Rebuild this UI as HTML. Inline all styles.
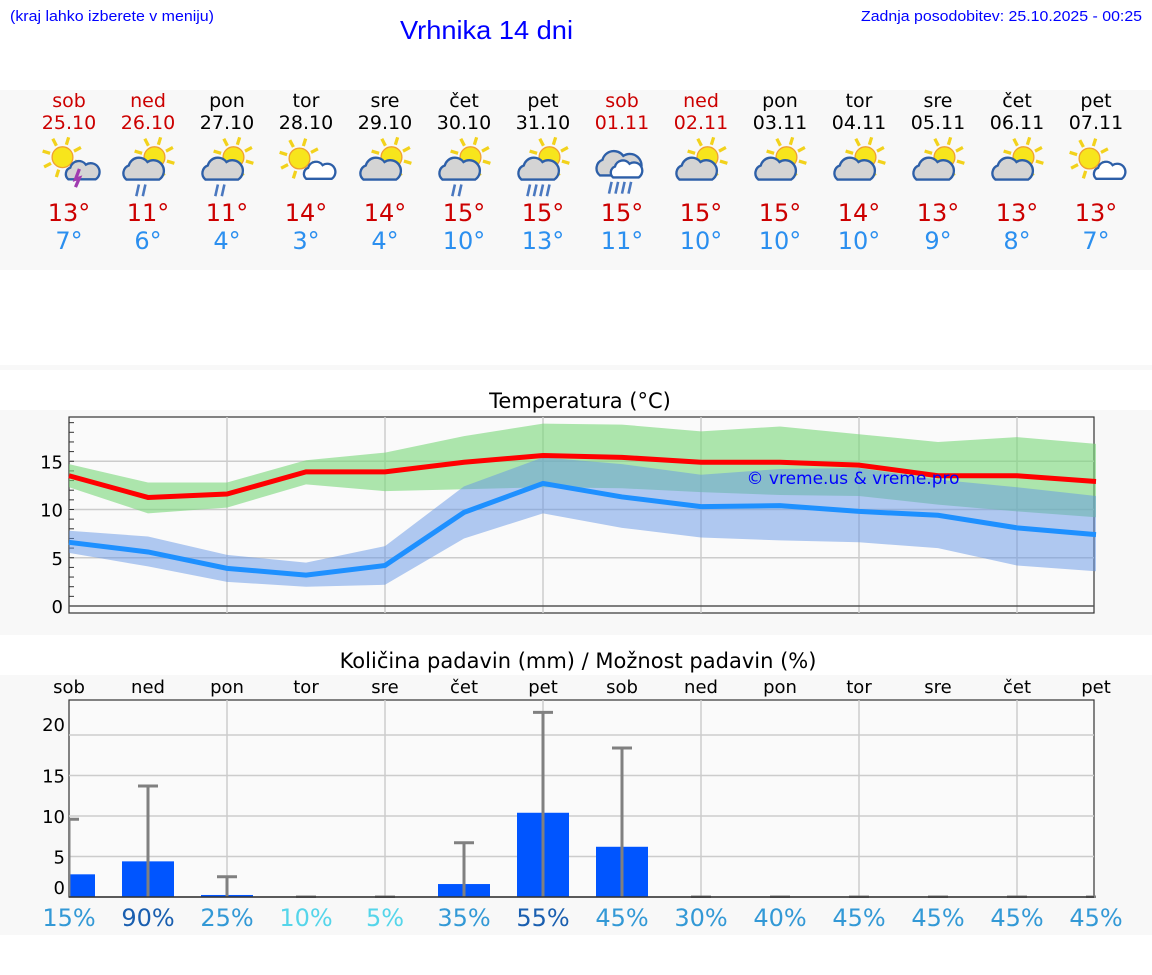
<!DOCTYPE html>
<html><head><meta charset="utf-8"><style>
body{margin:0;background:#fff;width:1152px;height:975px;overflow:hidden;font-family:"DejaVu Sans","Liberation Sans",sans-serif}
svg{display:block}
</style></head><body>
<svg id="s" width="1152" height="975" xmlns="http://www.w3.org/2000/svg" font-family="DejaVu Sans, Liberation Sans, sans-serif">
<rect x="0" y="90" width="1152" height="180" fill="#f8f8f8"/>
<rect x="0" y="365" width="1152" height="5" fill="#f8f8f8"/>
<rect x="0" y="410" width="1152" height="225" fill="#f8f8f8"/>
<rect x="0" y="675" width="1152" height="260" fill="#f8f8f8"/>
<text x="10" y="21" font-family="Liberation Sans, sans-serif" font-size="15" fill="#0000ff" textLength="204" lengthAdjust="spacingAndGlyphs">(kraj lahko izberete v meniju)</text>
<text x="400" y="39" font-family="Liberation Sans, sans-serif" font-size="26" fill="#0000ff" textLength="173" lengthAdjust="spacingAndGlyphs">Vrhnika 14 dni</text>
<text x="1142" y="21" text-anchor="end" font-family="Liberation Sans, sans-serif" font-size="15" fill="#0000ff" textLength="281" lengthAdjust="spacingAndGlyphs">Zadnja posodobitev: 25.10.2025 - 00:25</text>
<text x="580" y="408" text-anchor="middle" font-size="21" fill="#000">Temperatura (°C)</text>
<text x="578" y="668" text-anchor="middle" font-size="21" fill="#000">Količina padavin (mm) / Možnost padavin (%)</text>
<g id="g"></g>
</svg>
<script>
const days=["sob","ned","pon","tor","sre","čet","pet","sob","ned","pon","tor","sre","čet","pet"];
const dates=["25.10","26.10","27.10","28.10","29.10","30.10","31.10","01.11","02.11","03.11","04.11","05.11","06.11","07.11"];
const weekend=[1,1,0,0,0,0,0,1,1,0,0,0,0,0];
const hiLabels=[13,11,11,14,14,15,15,15,15,15,14,13,13,13];
const loLabels=[7,6,4,3,4,10,13,11,10,10,10,9,8,7];
const icons=["storm","rain2","rain2","sunwhite","cloud","rain2","rain4","bigrain","cloud","cloud","cloud","cloud","cloud","sunwhite"];
const tMax=[13.5,11.25,11.6,13.9,13.9,14.9,15.6,15.4,14.9,14.9,14.6,13.5,13.5,12.9];
const tMaxHi=[14.7,12.8,12.8,15.1,15.9,17.6,18.9,18.8,18.1,18.6,17.8,17.0,17.5,16.8];
const tMaxLo=[12.3,9.6,10.2,12.6,11.9,12.1,12.3,12.2,11.8,11.5,11.4,10.5,9.8,9.2];
const tMin=[6.6,5.6,3.9,3.2,4.2,9.7,12.7,11.3,10.3,10.4,9.8,9.4,8.1,7.4];
const tMinHi=[7.8,7.2,5.3,4.5,6.2,12.4,15.4,14.7,13.6,14.2,14.3,13.1,12.3,11.4];
const tMinLo=[5.5,4.1,2.5,2.0,2.2,7.0,9.6,8.1,7.1,6.8,6.6,6.0,4.2,3.6];
const tTicks=[0,5,10,15];
const precip=[2.8,4.4,0.25,0,0,1.6,10.4,6.2,0,0,0,0,0,0];
const precipMax=[9.6,13.7,2.5,0,0,6.7,22.8,18.4,0,0,0,0,0,0];
const prob=[15,90,25,10,5,35,55,45,30,40,45,45,45,45];
const pTicks=[0,5,10,15,20];
const NS="http://www.w3.org/2000/svg";
const G=document.getElementById('g');
function el(t,a,p){const e=document.createElementNS(NS,t);for(const k in a)e.setAttribute(k,a[k]);(p||G).appendChild(e);return e;}
const X0=69,X1=1094,N=14;
const dx=i=>X0+i*(X1+2-X0)/(N-1);
const ty=v=>606-v*9.65;
const py=v=>897-v*8.1;
for(let i=0;i<N;i++){
 const c=weekend[i]?"#cc0000":"#000";
 let t=el('text',{x:dx(i),y:107,'text-anchor':'middle','font-size':19,fill:c});t.textContent=days[i];
 
 
 t=el('text',{x:dx(i),y:129,'text-anchor':'middle','font-size':19,fill:c});t.textContent=dates[i];
 
 
 t=el('text',{x:dx(i),y:221,'text-anchor':'middle','font-size':24,fill:"#cc0000"});t.textContent=hiLabels[i]+"°";
 
 
 t=el('text',{x:dx(i),y:249,'text-anchor':'middle','font-size':24,fill:"#2b8fef"});t.textContent=loLabels[i]+"°";
 
 
 const ig=el('g',{transform:`translate(${dx(i)},165) scale(1.3)`});
 
 
 drawIcon(ig,icons[i]);
}
function sun(g,x,y,r){
 for(let k=0;k<8;k++){const a=k*Math.PI/4+0.3;el('line',{x1:x+Math.cos(a)*(r+2),y1:y+Math.sin(a)*(r+2),x2:x+Math.cos(a)*(r+8),y2:y+Math.sin(a)*(r+8),stroke:"#f2d21c",'stroke-width':2.5},g);}
 el('circle',{cx:x,cy:y,r:r,fill:"#f7e51c",stroke:"#f0a030",'stroke-width':1},g);
}
function cloud(g,x,y,s,fill){
 const d=`M${x-14*s},${y+8*s} a${7*s},${7*s} 0 0 1 ${2*s},${-12*s} a${9*s},${9*s} 0 0 1 ${16*s},${-3*s} a${7*s},${7*s} 0 0 1 ${10*s},${15*s} z`;
 el('path',{d:d,fill:fill,stroke:"#2d5fa8",'stroke-width':1.8},g);
}
function rain(g,x,y,n){for(let k=0;k<n;k++)el('line',{x1:x+k*5+2,y1:y,x2:x+k*5,y2:y+9,stroke:"#4a78c0",'stroke-width':2},g);}
function drawIcon(g,t){
 if(t==="storm"){sun(g,-5,-6,8);cloud(g,10,5,0.75,"#d4d4d4");el('path',{d:"M8,3 L5,11 L8,10 L5,17",stroke:"#a03cb0",'stroke-width':2.5,fill:"none"},g);}
 else if(t==="sunwhite"){sun(g,-5,-5,8);cloud(g,10,5,0.7,"#fff");}
 else if(t==="bigrain"){cloud(g,-3,0,1.0,"#d4d4d4");cloud(g,3,4,0.7,"#fff");rain(g,-10,13,4);}
 else{sun(g,5,-6,8);cloud(g,-4,4,0.9,"#d4d4d4");if(t==="rain2")rain(g,-9,15,2);if(t==="rain4")rain(g,-12,15,4);}
}
el('rect',{x:X0,y:417,width:X1-X0,height:196,fill:"#fafafa",stroke:"#333",'stroke-width':1.2});
for(let i=2;i<N;i+=2)el('line',{x1:dx(i),y1:417,x2:dx(i),y2:613,stroke:"#ccc",'stroke-width':1.5});
for(const v of tTicks){el('line',{x1:X0,y1:ty(v),x2:X1,y2:ty(v),stroke:v===0?"#555":"#ccc",'stroke-width':1.5});
 const t=el('text',{x:63,y:ty(v)+7,'text-anchor':'end','font-size':18,fill:"#000"});t.textContent=v;
 
 }
for(let v=1;v<20;v++)el('line',{x1:X0,y1:ty(v),x2:X0+5,y2:ty(v),stroke:"#333"});
function band(hi,lo,fill,name){let d="M"+hi.map((v,i)=>dx(i)+","+ty(v)).join(" L")+" L"+lo.map((v,i)=>dx(i)+","+ty(v)).reverse().join(" L")+"Z";
 const p=el('path',{d:d,fill:fill});}
function line(a,c,name){const p=el('polyline',{points:a.map((v,i)=>dx(i)+","+ty(v)).join(" "),fill:"none",stroke:c,'stroke-width':5});}
band(tMaxHi,tMaxLo,"rgba(120,215,120,0.6)","max-temp-range");
band(tMinHi,tMinLo,"rgba(100,150,230,0.5)","min-temp-range");
line(tMax,"#ff0000","max-temp-line");
line(tMin,"#1e90ff","min-temp-line");
let wm=el('text',{x:853,y:484,'text-anchor':'middle','font-size':17,fill:"#0000ff"});wm.textContent="© vreme.us & vreme.pro";


for(let i=0;i<N;i++){const t=el('text',{x:dx(i),y:693,'text-anchor':'middle','font-size':18,fill:"#000"});t.textContent=days[i];
 
 }
el('rect',{x:X0,y:700,width:X1-X0,height:197,fill:"#fafafa",stroke:"#333",'stroke-width':1.2});
for(let i=2;i<N;i+=2)el('line',{x1:dx(i),y1:700,x2:dx(i),y2:897,stroke:"#ccc",'stroke-width':1.5});
for(const v of pTicks){if(v>0)el('line',{x1:X0,y1:py(v),x2:X1,y2:py(v),stroke:"#ccc",'stroke-width':1.5});
 const off=v===0?-3:(v===20?-4:7);
 const t=el('text',{x:65,y:py(v)+off,'text-anchor':'end','font-size':18,fill:"#000"});t.textContent=v;
 
 }
const clip=el('clipPath',{id:'pc'});el('rect',{x:X0,y:690,width:X1-X0+2,height:208},clip);
const pg=el('g',{'clip-path':'url(#pc)'});
for(let i=0;i<N;i++){
 if(precip[i]>0){const b=el('rect',{x:dx(i)-26,y:py(precip[i]),width:52,height:897-py(precip[i]),fill:"#0055ff"},pg);
  
  }
 const yt=py(precipMax[i]);
 el('line',{x1:dx(i),y1:yt,x2:dx(i),y2:897,stroke:"#808080",'stroke-width':3},pg);
 const cap=el('line',{x1:dx(i)-10,y1:yt,x2:dx(i)+10,y2:yt,stroke:"#808080",'stroke-width':3},pg);
 
 
}
el('line',{x1:X0,y1:897,x2:X1,y2:897,stroke:"#333",'stroke-width':1.5});
for(let i=0;i<N;i++){const p=prob[i];const c=(p>=50)?"#1a5fb0":(p<=10?"#55d5ea":"#3399d6");
 const t=el('text',{x:dx(i),y:926,'text-anchor':'middle','font-size':24,fill:c});t.textContent=p+"%";
 
 }
</script>
</body></html>
